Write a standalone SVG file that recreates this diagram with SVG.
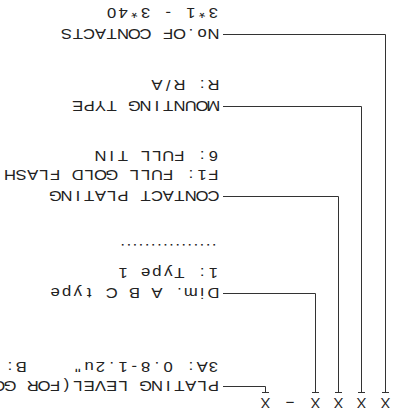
<svg xmlns="http://www.w3.org/2000/svg" width="405" height="414" viewBox="0 0 405 414">
<style>
  .t { font-family: "Liberation Sans", Arial, sans-serif; font-size: 14.5px; fill: #222; text-anchor: middle; }
  .d { font-family: "Liberation Sans", Arial, sans-serif; font-size: 14.5px; fill: #222; }
  .c { fill: none; stroke: #333; stroke-width: 1; }
</style>
<rect width="405" height="414" fill="#ffffff"/>
<g transform="rotate(180 202.5 207)">
  <g id="code">
    <text class="t" x="19.5" y="16">X</text>
    <text class="t" x="43.5" y="16">X</text>
    <text class="t" x="66.5" y="16">X</text>
    <text class="t" x="89.5" y="16">X</text>
    <text class="d" x="110" y="16" textLength="10" lengthAdjust="spacingAndGlyphs">-</text>
    <text class="t" x="139.5" y="16">X</text>
  </g>
  <g id="connectors">
    <path class="c" d="M16 21.5H23M19.5 21.5V379.5H182"/>
    <path class="c" d="M40 21.5H47M43.5 21.5V307.5H182"/>
    <path class="c" d="M63 21.5H70M66.5 21.5V217.5H182"/>
    <path class="c" d="M86 21.5H93M89.5 21.5V120.5H182"/>
    <path class="c" d="M136 21.5H143M139.5 21.5V27.5H182"/>
  </g>
  <g id="plating-level" transform="matrix(1.15 0 0 1 -27.9 0)">
    <text class="t" x="190.87 200.7 210.52 220.35 230.17 240 249.83 259.65 269.48 279.3 289.13 298.96 308.78 318.61 328.43 338.26 348.09 357.91 367.74 377.56" y="33.3">PLATING LEVEL(FOR GO</text>
    <text class="t" x="190.87 200.7 210.52 220.35 230.17 240 249.83 259.65 269.48 279.3 289.13 298.96 308.78" y="52.3">3A: 0.8-1.2u"</text>
    <text class="t" x="357.91 367.74" y="52.3">B:</text>
  </g>
  <g id="dim-type" transform="matrix(1.15 0 0 1 -27.9 0)">
    <text class="t" x="190.87 200.7 210.52 220.35 230.17 240 249.83 259.65 269.48 279.3 289.13 298.96 308.78 318.61 328.43" y="126.3">Dim. A B C type</text>
    <text class="t" x="190.87 200.7 210.52 220.35 230.17 240 249.83 259.65 269.48" y="146.3">1: Type 1</text>
    <text class="d" x="188.2" y="170.5" textLength="83.5" lengthAdjust="spacing">................</text>
  </g>
  <g id="contact-plating" transform="matrix(1.15 0 0 1 -27.9 0)">
    <text class="t" x="190.87 200.7 210.52 220.35 230.17 240 249.83 259.65 269.48 279.3 289.13 298.96 308.78 318.61 328.43" y="223.3">CONTACT PLATING</text>
    <text class="t" x="190.87 200.7 210.52 220.35 230.17 240 249.83 259.65 269.48 279.3 289.13 298.96 308.78 318.61 328.43 338.26 348.09 357.91 367.74" y="244.3">F1: FULL GOLD FLASH</text>
    <text class="t" x="190.87 200.7 210.52 220.35 230.17 240 249.83 259.65 269.48 279.3 289.13" y="263.3">6: FULL TIN</text>
  </g>
  <g id="mounting-type" transform="matrix(1.15 0 0 1 -27.9 0)">
    <text class="t" x="190.87 200.7 210.52 220.35 230.17 240 249.83 259.65 269.48 279.3 289.13 298.96 308.78" y="313.3">MOUNTING TYPE</text>
    <text class="t" x="190.87 200.7 210.52 220.35 230.17 240" y="334.3">R: R/A</text>
  </g>
  <g id="contacts" transform="matrix(1.15 0 0 1 -27.9 0)">
    <text class="t" x="190.87 200.7 210.52 220.35 230.17 240 249.83 259.65 269.48 279.3 289.13 298.96 308.78 318.61" y="385.3">No.OF CONTACTS</text>
    <text class="t" x="190.87 200.7 210.52 220.35 230.17 240 249.83 259.65 269.48 279.3" y="405.8">3*1 - 3*40</text>
  </g>
</g>
</svg>
